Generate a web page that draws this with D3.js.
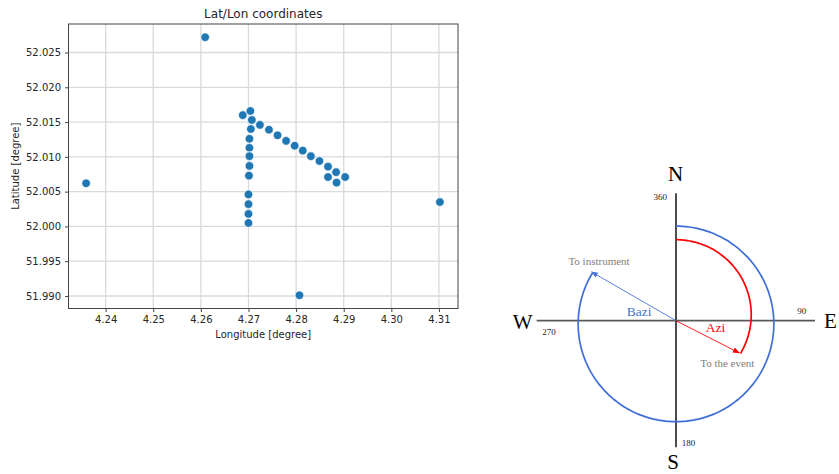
<!DOCTYPE html>
<html>
<head>
<meta charset="utf-8">
<script src="https://cdn.jsdelivr.net/npm/d3@7"></script>
<style>
  html, body { margin: 0; padding: 0; background: #fff; }
  svg { display: block; }
</style>
</head>
<body>
<svg id="chart" width="839" height="474"></svg>
<script>
// Station coordinates (longitude / latitude, degrees)
const lons = [4.2609, 4.2688, 4.2704, 4.2707, 4.2705, 4.2702, 4.2702, 4.2702, 4.2702, 4.2701,
              4.2700, 4.2700, 4.2700, 4.2700, 4.2724, 4.2743, 4.2761, 4.2779, 4.2797, 4.2814,
              4.2831, 4.2849, 4.2867, 4.2884, 4.2903, 4.2867, 4.2885, 4.2359, 4.3102, 4.2807];
const lats = [52.0272, 52.0160, 52.0166, 52.0153, 52.0140, 52.0126, 52.0113, 52.0101, 52.0087, 52.0073,
              52.0046, 52.0032, 52.0018, 52.0005, 52.0146, 52.0139, 52.0131, 52.0123, 52.0116, 52.0109,
              52.0101, 52.0094, 52.0086, 52.0078, 52.0071, 52.0071, 52.0063, 52.0062, 52.0035, 51.9901];
const xTicks = [4.24, 4.25, 4.26, 4.27, 4.28, 4.29, 4.30, 4.31];
const yTicks = [51.990, 51.995, 52.000, 52.005, 52.010, 52.015, 52.020, 52.025];

// Compass sketch: azimuth to the event and back-azimuth to the instrument (degrees)
const azimuth = 117;
const backAzimuth = 300;
const cardinals = ["N", "E", "S", "W"];
const cardinalBearings = [0, 90, 180, 270];
const degreeLabels = ["360", "90", "180", "270"];

const svg = d3.select("#chart");

// ---------- scatter of coordinates ----------
const plot = { left: 68.5, right: 458, top: 24, bottom: 308.5 };
const x = d3.scaleLinear().domain([4.2322, 4.3140]).range([plot.left, plot.right]);
const y = d3.scaleLinear().domain([51.9882, 52.0291]).range([plot.bottom, plot.top]);
const sans = "'DejaVu Sans', sans-serif";
const textCol = "#262626";

const gGrid = svg.append("g");
gGrid.selectAll("line.vx").data(xTicks).join("line")
  .attr("x1", d => x(d)).attr("x2", d => x(d))
  .attr("y1", plot.top).attr("y2", plot.bottom)
  .attr("stroke", "#dadada").attr("stroke-width", 1.3);
gGrid.selectAll("line.hy").data(yTicks).join("line")
  .attr("y1", d => y(d)).attr("y2", d => y(d))
  .attr("x1", plot.left).attr("x2", plot.right)
  .attr("stroke", "#dadada").attr("stroke-width", 1.3);

const xAxis = svg.append("g")
  .attr("transform", `translate(0,${plot.bottom})`)
  .call(d3.axisBottom(x).tickValues(xTicks).tickFormat(d3.format(".2f")).tickSize(3.5).tickPadding(4));
const yAxis = svg.append("g")
  .attr("transform", `translate(${plot.left},0)`)
  .call(d3.axisLeft(y).tickValues(yTicks).tickFormat(d3.format(".3f")).tickSize(3.5).tickPadding(4));
[xAxis, yAxis].forEach(a => {
  a.select(".domain").remove();
  a.selectAll("line").attr("stroke", "#444").attr("stroke-width", 1);
  a.selectAll("text").attr("fill", textCol).style("font-family", sans).style("font-size", "10px");
});

svg.append("rect")
  .attr("x", plot.left).attr("y", plot.top)
  .attr("width", plot.right - plot.left).attr("height", plot.bottom - plot.top)
  .attr("fill", "none").attr("stroke", "#444").attr("stroke-width", 1);

svg.append("g").selectAll("circle").data(lons.map((d, i) => [d, lats[i]])).join("circle")
  .attr("cx", d => x(d[0])).attr("cy", d => y(d[1])).attr("r", 4.3)
  .attr("fill", "#1f77b4").attr("stroke", "#fff").attr("stroke-width", 0.7);

svg.append("text").attr("x", (plot.left + plot.right) / 2).attr("y", 18)
  .attr("text-anchor", "middle").attr("fill", textCol)
  .style("font-family", sans).style("font-size", "12px").text("Lat/Lon coordinates");
svg.append("text").attr("x", (plot.left + plot.right) / 2).attr("y", 338)
  .attr("text-anchor", "middle").attr("fill", textCol)
  .style("font-family", sans).style("font-size", "10px").text("Longitude [degree]");
svg.append("text").attr("transform", `translate(19,${(plot.top + plot.bottom) / 2}) rotate(-90)`)
  .attr("text-anchor", "middle").attr("fill", textCol)
  .style("font-family", sans).style("font-size", "10px").text("Latitude [degree]");

// ---------- compass ----------
const serif = "'Liberation Serif', 'Times New Roman', serif";
const cx = 676, cy = 320.7;
const g = svg.append("g").attr("transform", `translate(${cx},${cy})`);
const rad = d3.scaleLinear().domain([0, 360]).range([0, 2 * Math.PI]);
const polar = (deg, r) => [r * Math.sin(rad(deg)), -r * Math.cos(rad(deg))];

const defs = svg.append("defs");
function marker(id, col) {
  defs.append("marker").attr("id", id).attr("viewBox", "0 0 10 10")
    .attr("refX", 9).attr("refY", 5).attr("markerWidth", 7).attr("markerHeight", 7)
    .attr("markerUnits", "userSpaceOnUse").attr("orient", "auto")
    .append("path").attr("d", "M0,1 L10,5 L0,9 Z").attr("fill", col);
}
marker("headRed", "#ff0000");
marker("headBlue", "#4a72d8");

// compass axes
g.append("line").attr("x1", -139.3).attr("x2", 139).attr("y1", 0).attr("y2", 0)
  .attr("stroke", "#5a5a5a").attr("stroke-width", 1.8);
g.append("line").attr("x1", 0).attr("x2", 0).attr("y1", -127.4).attr("y2", 126.6)
  .attr("stroke", "#000").attr("stroke-width", 1.4);

// back-azimuth sweep (blue) and azimuth sweep (red)
const sweep = d3.lineRadial().curve(d3.curveBasis);
const blueR = a => 97.8 - 3.2 * Math.cos(rad(a));
const redR = a => 75 + 6 * Math.cos(rad(a));
const blueAngles = d3.range(0, backAzimuth + 0.1, 2);
const redAngles = d3.range(0, azimuth + 0.1, 1);
g.append("path")
  .attr("d", sweep(blueAngles.map(a => [rad(a), blueR(a)])))
  .attr("fill", "none").attr("stroke", "#3f6fd6").attr("stroke-width", 1.7);
g.append("path")
  .attr("d", sweep(redAngles.map(a => [rad(a), redR(a)])))
  .attr("fill", "none").attr("stroke", "#ff0000").attr("stroke-width", 1.7);

const blueTip = polar(backAzimuth, 97.5);
const redTip = polar(azimuth, 71);
g.append("line").attr("x1", 0).attr("y1", 0).attr("x2", blueTip[0]).attr("y2", blueTip[1])
  .attr("stroke", "#5b82dc").attr("stroke-width", 1).attr("marker-end", "url(#headBlue)");
g.append("line").attr("x1", 0).attr("y1", 0).attr("x2", redTip[0]).attr("y2", redTip[1])
  .attr("stroke", "#ff2020").attr("stroke-width", 1).attr("marker-end", "url(#headRed)");

// cardinal letters
const cardPos = [[-0.5, -140], [148, 7.3], [-3, 148.5], [-163.3, 8.3]];
const cardAnchor = ["middle", "start", "middle", "start"];
g.selectAll("text.card").data(cardinals).join("text")
  .attr("x", (d, i) => cardPos[i][0]).attr("y", (d, i) => cardPos[i][1])
  .attr("text-anchor", (d, i) => cardAnchor[i])
  .attr("fill", "#000").style("font-family", serif).style("font-size", "21px")
  .text(d => d);

// degree marks
const degPos = [[-9, -121.2], [121.3, -6.4], [5.7, 125], [-133.7, 14.3]];
const degAnchor = ["end", "start", "start", "start"];
g.selectAll("text.deg").data(degreeLabels).join("text")
  .attr("x", (d, i) => degPos[i][0]).attr("y", (d, i) => degPos[i][1])
  .attr("text-anchor", (d, i) => degAnchor[i])
  .attr("fill", "#222").style("font-family", serif).style("font-size", "9px")
  .text(d => d);

// annotations
g.append("text").attr("x", -77).attr("y", -56).attr("text-anchor", "middle")
  .attr("fill", "#808080").style("font-family", serif).style("font-size", "11px").text("To instrument");
g.append("text").attr("x", 51.3).attr("y", 46).attr("text-anchor", "middle")
  .attr("fill", "#808080").style("font-family", serif).style("font-size", "11px").text("To the event");
g.append("text").attr("x", -49.3).attr("y", -5).attr("text-anchor", "start")
  .attr("fill", "#4472c4").style("font-family", serif).style("font-size", "13.5px").text("Bazi");
g.append("text").attr("x", 29.7).attr("y", 11).attr("text-anchor", "start")
  .attr("fill", "#ff0000").style("font-family", serif).style("font-size", "13.5px").text("Azi");
</script>
</body>
</html>
